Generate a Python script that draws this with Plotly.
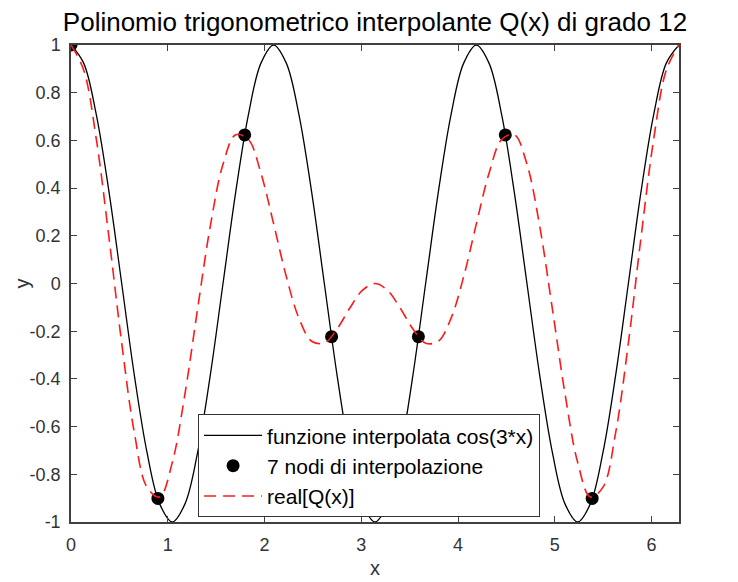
import plotly.graph_objects as go

# sampled curve abscissae (0 .. 2*pi)
x_curve = [0, 0.131, 0.262, 0.393, 0.524, 0.654, 0.785, 0.916, 1.047, 1.178, 1.309, 1.440,
           1.571, 1.702, 1.833, 1.963, 2.094, 2.225, 2.356, 2.487, 2.618, 2.749, 2.880, 3.011,
           3.142, 3.272, 3.403, 3.534, 3.665, 3.796, 3.927, 4.058, 4.189, 4.320, 4.451, 4.581,
           4.712, 4.843, 4.974, 5.105, 5.236, 5.367, 5.498, 5.629, 5.760, 5.890, 6.021, 6.152, 6.283]

# black curve: interpolated function cos(3*x)
y_func = [1, 0.924, 0.707, 0.383, 0, -0.383, -0.707, -0.924, -1, -0.924, -0.707, -0.383,
          0, 0.383, 0.707, 0.924, 1, 0.924, 0.707, 0.383, 0, -0.383, -0.707, -0.924,
          -1, -0.924, -0.707, -0.383, 0, 0.383, 0.707, 0.924, 1, 0.924, 0.707, 0.383,
          0, -0.383, -0.707, -0.924, -1, -0.924, -0.707, -0.383, 0, 0.383, 0.707, 0.924, 1]

# red dashed curve: real part of Q(x)
y_q = [1, 0.895, 0.604, 0.191, -0.25, -0.624, -0.854, -0.895, -0.75, -0.462, -0.104, 0.242,
       0.5, 0.624, 0.604, 0.462, 0.25, 0.029, -0.146, -0.242, -0.25, -0.191, -0.104, -0.029,
       0, -0.029, -0.104, -0.191, -0.25, -0.242, -0.146, 0.029, 0.25, 0.462, 0.604, 0.624,
       0.5, 0.242, -0.104, -0.462, -0.75, -0.895, -0.854, -0.624, -0.25, 0.191, 0.604, 0.895, 1]

# interpolation nodes
x_nodes = [0, 0.898, 1.795, 2.693, 3.590, 4.488, 5.386]
y_nodes = [1, -0.901, 0.623, -0.223, -0.223, 0.623, -0.901]

x_ticks = [0, 1, 2, 3, 4, 5, 6]
y_ticks = [-1, -0.8, -0.6, -0.4, -0.2, 0, 0.2, 0.4, 0.6, 0.8, 1]
y_tick_text = ["-1", "-0.8", "-0.6", "-0.4", "-0.2", "0", "0.2", "0.4", "0.6", "0.8", "1"]

FONT = "Liberation Sans, Arial, Helvetica, sans-serif"
AXC = "#404040"

fig = go.Figure()
fig.add_trace(go.Scatter(x=x_curve, y=y_func, mode="lines", line_shape="spline",
                         line=dict(color="black", width=1.3),
                         name="funzione interpolata cos(3*x)"))
fig.add_trace(go.Scatter(x=x_nodes, y=y_nodes, mode="markers",
                         marker=dict(color="black", size=13),
                         name="7 nodi di interpolazione"))
fig.add_trace(go.Scatter(x=x_curve, y=y_q, mode="lines", line_shape="spline",
                         line=dict(color="#ff1a1a", width=1.6, dash="12px,7px"),
                         name="real[Q(x)]"))

axis_common = dict(showgrid=False, zeroline=False, showline=True, mirror="ticks",
                   linecolor=AXC, linewidth=1.5, ticks="inside", ticklen=6,
                   tickcolor=AXC, tickwidth=1.2,
                   tickfont=dict(size=18, color="#333333", family=FONT))

fig.update_xaxes(range=[0, 6.2832], tickvals=x_ticks, ticklabelstandoff=6, **axis_common)
fig.update_yaxes(range=[-1, 1], tickvals=y_ticks, ticktext=y_tick_text,
                 ticklabelstandoff=5, **axis_common)

fig.add_annotation(text="x", xref="paper", yref="paper", x=0.5, y=0,
                   xanchor="center", yanchor="middle", yshift=-46, showarrow=False,
                   font=dict(size=20, color="#333333", family=FONT))
fig.add_annotation(text="y", xref="paper", yref="paper", x=0, y=0.5,
                   xanchor="center", yanchor="middle", xshift=-50, textangle=-90,
                   showarrow=False, font=dict(size=20, color="#333333", family=FONT))

fig.update_layout(
    width=738, height=582,
    margin=dict(l=63, r=67, t=37, b=68),
    paper_bgcolor="white", plot_bgcolor="white",
    font=dict(family=FONT, color="black"),
    title=dict(text="Polinomio trigonometrico interpolante Q(x) di grado 12",
               x=0.5, xanchor="center", xref="paper", y=0.9915, yanchor="top",
               yref="container", pad=dict(t=0, b=0),
               font=dict(size=26, color="black", family=FONT)),
    showlegend=True,
    legend=dict(x=0.209, y=0.226, xanchor="left", yanchor="top",
                bgcolor="white", bordercolor="#333333", borderwidth=1,
                font=dict(size=21, color="black", family=FONT), itemwidth=58,
                tracegroupgap=0),
)

fig.write_html("out.html")
